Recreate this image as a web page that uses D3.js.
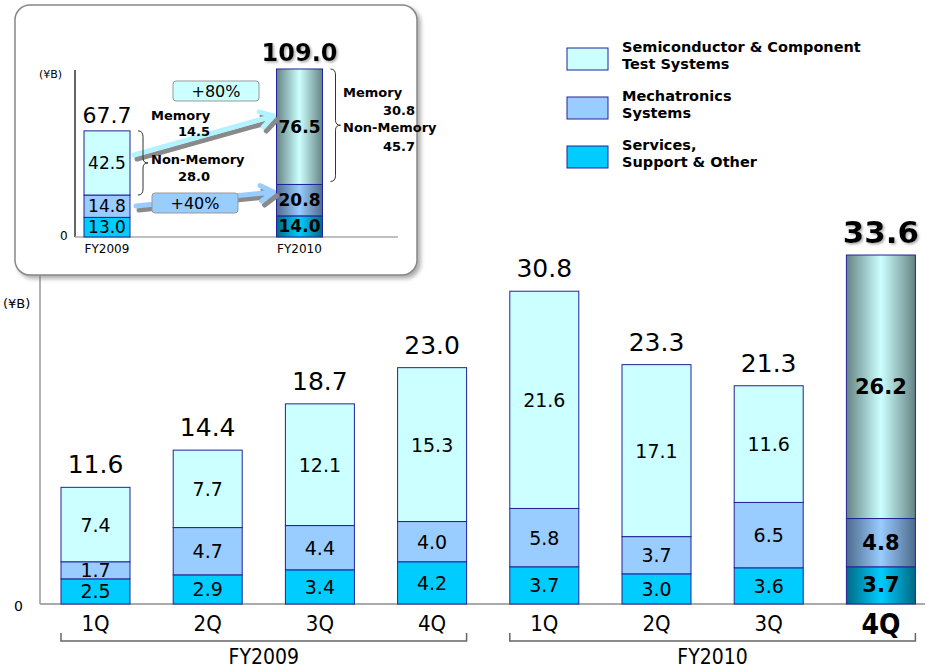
<!DOCTYPE html>
<html>
<head>
<meta charset="utf-8">
<script src="https://cdn.jsdelivr.net/npm/d3@7"></script>
<style>
  body { margin: 0; background: #fff; }
  svg { display: block; font-family: "DejaVu Sans", sans-serif; }
</style>
</head>
<body>
<div id="chart"></div>
<script>
// quarterly sales (¥B)
const quarters = ['1Q', '2Q', '3Q', '4Q', '1Q', '2Q', '3Q', '4Q'];
const quarterYears = ['FY2009', 'FY2009', 'FY2009', 'FY2009', 'FY2010', 'FY2010', 'FY2010', 'FY2010'];
const semiTest = [7.4, 7.7, 12.1, 15.3, 21.6, 17.1, 11.6, 26.2];
const mechatronics = [1.7, 4.7, 4.4, 4.0, 5.8, 3.7, 6.5, 4.8];
const services = [2.5, 2.9, 3.4, 4.2, 3.7, 3.0, 3.6, 3.7];
const totals = [11.6, 14.4, 18.7, 23.0, 30.8, 23.3, 21.3, 33.6];
const fiscalYears = ['FY2009', 'FY2010'];

// full year inset
const insetYears = ['FY2009', 'FY2010'];
const insetSemi = [42.5, 76.5];
const insetMech = [14.8, 20.8];
const insetServ = [13.0, 14.0];
const insetTotals = [67.7, 109.0];
const memory = [14.5, 30.8];
const nonMemory = [28.0, 45.7];
const growth = ['+80%', '+40%'];

const legendItems = [
  { lines: ['Semiconductor & Component', 'Test Systems'], color: '#ccffff' },
  { lines: ['Mechatronics', 'Systems'], color: '#99ccff' },
  { lines: ['Services,', 'Support & Other'], color: '#00ccff' }
];

let width = 927, height = 669;
const edge = '#22229a';
const colors = ['#00ccff', '#99ccff', '#ccffff'];
const darkEdges = ['#006a84', '#4e6b8c', '#668484'];

let svg = d3.select('#chart').append('svg')
  .attr('width', width).attr('height', height);

let defs = svg.append('defs');
colors.forEach(function(c, i) {
  let g = defs.append('linearGradient').attr('id', 'grad' + i)
    .attr('x1', 0).attr('x2', 1).attr('y1', 0).attr('y2', 0);
  g.append('stop').attr('offset', '0%').attr('stop-color', darkEdges[i]);
  g.append('stop').attr('offset', '50%').attr('stop-color', c);
  g.append('stop').attr('offset', '100%').attr('stop-color', darkEdges[i]);
});
let sh = defs.append('filter').attr('id', 'shadow')
  .attr('x', '-10%').attr('y', '-10%').attr('width', '130%').attr('height', '130%');
sh.append('feDropShadow').attr('dx', 3).attr('dy', 3).attr('stdDeviation', 2)
  .attr('flood-color', '#777').attr('flood-opacity', 0.6);
let tsh = defs.append('filter').attr('id', 'tshadow');
tsh.append('feDropShadow').attr('dx', 1.5).attr('dy', 1.5).attr('stdDeviation', 0.8)
  .attr('flood-color', '#888').attr('flood-opacity', 0.7);

// ---------- main chart ----------
let keys = quarters.map((q, i) => quarterYears[i] + ' ' + q);
let x = d3.scaleBand().domain(keys).range([39.4, 937]).paddingInner(0.385).paddingOuter(0.1925);
let y = d3.scaleLinear().domain([0, 35]).range([604, 252]);

svg.append('line').attr('x1', 40).attr('x2', 40).attr('y1', 604).attr('y2', 270)
  .attr('stroke', '#999').attr('stroke-width', 1.5);
svg.append('line').attr('x1', 40).attr('x2', 925).attr('y1', 604).attr('y2', 604)
  .attr('stroke', '#aaa').attr('stroke-width', 2);
svg.append('text').attr('x', 3).attr('y', 308).style('font-size', '13px').text('(¥B)');
svg.append('text').attr('x', 14).attr('y', 611).style('font-size', '14px').text('0');

let stacks = keys.map((k, i) => {
  let vals = [services[i], mechatronics[i], semiTest[i]];
  let base = 0;
  return vals.map((v, j) => { let s = { key: k, i: i, j: j, v: v, y0: base, y1: base + v }; base += v; return s; });
}).flat();

let last = keys.length - 1;
svg.selectAll('.seg').data(stacks).enter().append('rect')
  .attr('x', d => x(d.key)).attr('width', x.bandwidth())
  .attr('y', d => y(d.y1)).attr('height', d => y(d.y0) - y(d.y1))
  .attr('fill', d => d.i === last ? 'url(#grad' + d.j + ')' : colors[d.j])
  .attr('stroke', edge).attr('stroke-width', 1);

svg.selectAll('.seglab').data(stacks).enter().append('text')
  .attr('x', d => x(d.key) + x.bandwidth() / 2)
  .attr('y', d => (y(d.y0) + y(d.y1)) / 2 + 7)
  .attr('text-anchor', 'middle')
  .style('font-size', d => d.i === last ? '21px' : '19px')
  .style('font-weight', d => d.i === last ? 'bold' : 'normal')
  .text(d => d.v.toFixed(1));

svg.selectAll('.tot').data(keys).enter().append('text')
  .attr('x', d => x(d) + x.bandwidth() / 2)
  .attr('y', (d, i) => y(services[i] + mechatronics[i] + semiTest[i]) - (i === last ? 12 : 14))
  .attr('text-anchor', 'middle')
  .style('font-size', (d, i) => i === last ? '31px' : '25px')
  .style('font-weight', (d, i) => i === last ? 'bold' : 'normal')
  .attr('filter', (d, i) => i === last ? 'url(#tshadow)' : null)
  .text((d, i) => totals[i].toFixed(1));

svg.selectAll('.qlab').data(keys).enter().append('text')
  .attr('x', d => x(d) + x.bandwidth() / 2)
  .attr('y', (d, i) => i === last ? 634 : 631)
  .attr('text-anchor', 'middle')
  .style('font-family', '"Liberation Sans Narrow", "DejaVu Sans Condensed", sans-serif')
  .style('font-size', (d, i) => i === last ? '28px' : '22px')
  .style('font-weight', (d, i) => i === last ? 'bold' : 'normal')
  .text((d, i) => quarters[i]);

// fiscal year brackets
fiscalYears.forEach(function(fy) {
  let ks = keys.filter((k, i) => quarterYears[i] === fy);
  let x0 = x(ks[0]), x1 = x(ks[ks.length - 1]) + x.bandwidth();
  svg.append('path')
    .attr('d', `M${x0},633 V641 H${x1} V633`)
    .attr('fill', 'none').attr('stroke', '#666').attr('stroke-width', 1.5);
  svg.append('text').attr('x', (x0 + x1) / 2).attr('y', 664)
    .attr('text-anchor', 'middle')
    .style('font-family', '"Liberation Sans Narrow", "DejaVu Sans Condensed", sans-serif')
    .style('font-size', '21px').text(fy);
});

// ---------- legend ----------
let legend = svg.selectAll('.legend').data(legendItems).enter().append('g')
  .attr('transform', (d, i) => `translate(567, ${48 + i * 49})`);
legend.append('rect').attr('width', 41).attr('height', 22)
  .attr('fill', d => d.color).attr('stroke', edge).attr('stroke-width', 1);
legend.each(function(d) {
  let g = d3.select(this);
  d.lines.forEach((l, k) => g.append('text').attr('x', 55).attr('y', 4 + k * 17)
    .style('font-size', '14.5px').style('font-weight', 'bold').text(l));
});

// ---------- inset ----------
let inset = svg.append('g');
inset.append('rect').attr('x', 15).attr('y', 5).attr('width', 402).attr('height', 270)
  .attr('rx', 15).attr('fill', '#fff').attr('stroke', '#888').attr('stroke-width', 1.5)
  .attr('filter', 'url(#shadow)');

let ix = d3.scalePoint().domain(insetYears).range([107, 299.5]);
let iy = d3.scaleLinear().domain([0, 115]).range([237, 63.4]);
let bw = 46;

inset.append('line').attr('x1', 75).attr('x2', 75).attr('y1', 237).attr('y2', 70)
  .attr('stroke', '#333').attr('stroke-width', 1.5);
inset.append('line').attr('x1', 75).attr('x2', 398).attr('y1', 237).attr('y2', 237)
  .attr('stroke', '#aaa').attr('stroke-width', 1.5);
inset.append('text').attr('x', 39).attr('y', 78).style('font-size', '11px').text('(¥B)');
inset.append('text').attr('x', 60).attr('y', 240).style('font-size', '12px').text('0');

let istacks = insetYears.map((yr, i) => {
  let vals = [insetServ[i], insetMech[i], insetSemi[i]];
  let base = 0;
  return vals.map((v, j) => { let s = { key: yr, i: i, j: j, v: v, y0: base, y1: base + v }; base += v; return s; });
}).flat();

inset.selectAll('.iseg').data(istacks).enter().append('rect')
  .attr('x', d => ix(d.key) - bw / 2).attr('width', bw)
  .attr('y', d => iy(d.y1)).attr('height', d => iy(d.y0) - iy(d.y1))
  .attr('fill', d => d.i === 1 ? 'url(#grad' + d.j + ')' : colors[d.j])
  .attr('stroke', edge).attr('stroke-width', 1);

inset.selectAll('.iseglab').data(istacks).enter().append('text')
  .attr('x', d => ix(d.key)).attr('y', d => (iy(d.y0) + iy(d.y1)) / 2 + 6)
  .attr('text-anchor', 'middle')
  .style('font-size', '17px')
  .style('font-weight', d => d.i === 1 ? 'bold' : 'normal')
  .text(d => d.v.toFixed(1));

inset.selectAll('.itot').data(insetYears).enter().append('text')
  .attr('x', d => ix(d))
  .attr('y', (d, i) => iy(insetServ[i] + insetMech[i] + insetSemi[i]) - 8)
  .attr('text-anchor', 'middle')
  .style('font-size', (d, i) => i === 1 ? '24px' : '22px')
  .style('font-weight', (d, i) => i === 1 ? 'bold' : 'normal')
  .attr('filter', (d, i) => i === 1 ? 'url(#tshadow)' : null)
  .text((d, i) => insetTotals[i].toFixed(1));

inset.selectAll('.ixlab').data(insetYears).enter().append('text')
  .attr('x', d => ix(d)).attr('y', 253).attr('text-anchor', 'middle')
  .style('font-size', '12px').text(d => d);

// arrows between the two years
function arrow(x1, y1, x2, y2, color) {
  let a = Math.atan2(y2 - y1, x2 - x1), L = 15;
  let p1 = [x2 - L * Math.cos(a - 0.55), y2 - L * Math.sin(a - 0.55)];
  let p2 = [x2 - L * Math.cos(a + 0.55), y2 - L * Math.sin(a + 0.55)];
  let d = `M${x1},${y1} L${x2},${y2} M${p1} L${x2},${y2} L${p2}`;
  inset.append('path').attr('d', d).attr('transform', 'translate(3,4)')
    .attr('fill', 'none').attr('stroke', '#8a8a8a').attr('stroke-width', 5)
    .attr('stroke-linecap', 'round').attr('stroke-linejoin', 'round');
  inset.append('path').attr('d', d)
    .attr('fill', 'none').attr('stroke', color).attr('stroke-width', 5)
    .attr('stroke-linecap', 'round').attr('stroke-linejoin', 'round');
}
let bx0 = ix('FY2009') + bw / 2 + 4, bx1 = ix('FY2010') - bw / 2 - 3;
arrow(bx0, 155, bx1, 116, '#b3f3ff');
arrow(bx0 + 2, 206, bx1, 192, '#99ccff');

// growth boxes
[[173, 81, '#ccffff'], [152, 193, '#99ccff']].forEach(function(b, i) {
  inset.append('rect').attr('x', b[0]).attr('y', b[1]).attr('width', 86).attr('height', 20)
    .attr('rx', 3).attr('fill', b[2]).attr('stroke', '#999').attr('stroke-width', 1);
  inset.append('text').attr('x', b[0] + 43).attr('y', b[1] + 16).attr('text-anchor', 'middle')
    .style('font-size', '16px').text(growth[i]);
});

// braces
function brace(xb, top, bot, dir) {
  let mid = (top + bot) / 2, w = 5 * dir;
  let d = `M${xb},${top} Q${xb + w},${top} ${xb + w},${top + 6} V${mid - 5} Q${xb + w},${mid} ${xb + 2 * w},${mid}` +
          ` Q${xb + w},${mid} ${xb + w},${mid + 5} V${bot - 6} Q${xb + w},${bot} ${xb},${bot}`;
  inset.append('path').attr('d', d).attr('fill', 'none').attr('stroke', '#333').attr('stroke-width', 1);
}
brace(ix('FY2009') + bw / 2 + 8, iy(insetServ[0] + insetMech[0] + insetSemi[0]), iy(insetServ[0] + insetMech[0]), 1);
brace(ix('FY2010') + bw / 2 + 8, iy(insetServ[1] + insetMech[1] + insetSemi[1]), iy(insetServ[1] + insetMech[1]) - 3, 1);

// memory / non-memory split, baselines of the four lines
function split(xl, xc, ys, i) {
  let g = inset.append('g').style('font-size', '13px').style('font-weight', 'bold');
  g.append('text').attr('x', xl).attr('y', ys[0]).text('Memory');
  g.append('text').attr('x', xc).attr('y', ys[1]).attr('text-anchor', 'middle').text(memory[i].toFixed(1));
  g.append('text').attr('x', xl).attr('y', ys[2]).text('Non-Memory');
  g.append('text').attr('x', xc).attr('y', ys[3]).attr('text-anchor', 'middle').text(nonMemory[i].toFixed(1));
}
split(151, 194, [120, 136, 164, 181], 0);
split(343, 399, [97, 115, 132, 151], 1);
</script>
</body>
</html>
